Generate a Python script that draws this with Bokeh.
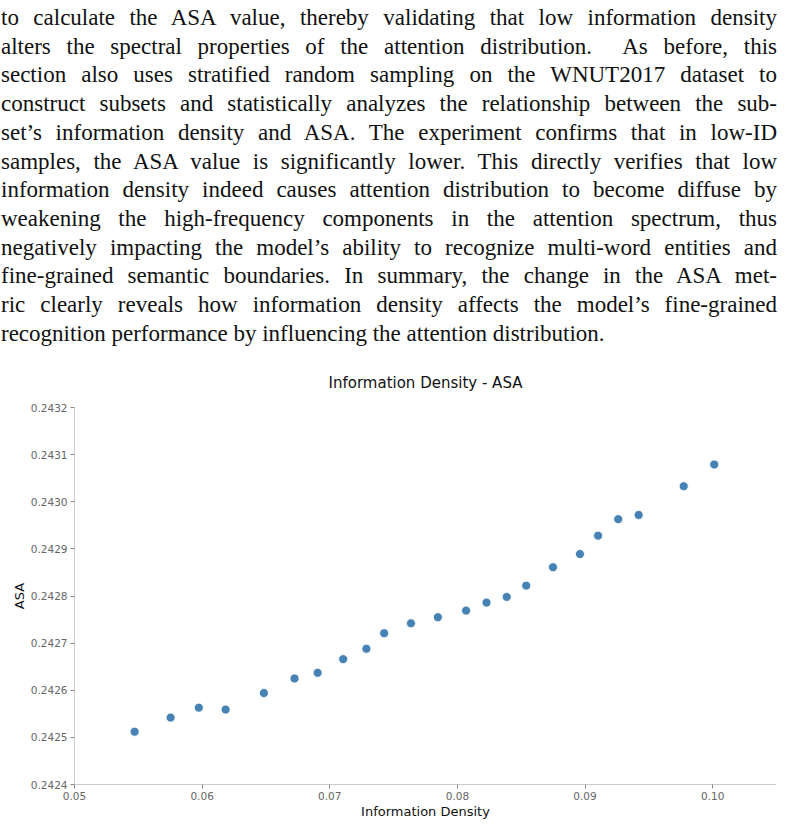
from bokeh.plotting import figure
from bokeh.models import Div, Range1d, FixedTicker, PrintfTickFormatter, ColumnDataSource
from bokeh.layouts import column
from bokeh.embed import file_html
from bokeh.resources import INLINE

# ---- data ----
info_density = [0.05471, 0.05753, 0.05974, 0.06184, 0.06484, 0.06724, 0.06905, 0.07105,
                0.07287, 0.07426, 0.07636, 0.07847, 0.08068, 0.08228, 0.08386, 0.08539,
                0.08749, 0.08960, 0.09102, 0.09260, 0.09420, 0.09773, 0.10012]
asa = [0.242512, 0.242542, 0.242563, 0.242559, 0.242594, 0.242625, 0.242637, 0.242666,
       0.242688, 0.242721, 0.242742, 0.242755, 0.242769, 0.242786, 0.242798, 0.242822,
       0.242861, 0.242889, 0.242928, 0.242963, 0.242972, 0.243033, 0.243079]
x_ticks = [0.05, 0.06, 0.07, 0.08, 0.09, 0.10]
y_ticks = [0.2424, 0.2425, 0.2426, 0.2427, 0.2428, 0.2429, 0.2430, 0.2431, 0.2432]

paragraph_lines = [
    "to calculate the ASA value, thereby validating that low information density",
    "alters the spectral properties of the attention distribution.&nbsp; As before, this",
    "section also uses stratified random sampling on the WNUT2017 dataset to",
    "construct subsets and statistically analyzes the relationship between the sub-",
    "set\u2019s information density and ASA. The experiment confirms that in low-ID",
    "samples, the ASA value is significantly lower. This directly verifies that low",
    "information density indeed causes attention distribution to become diffuse by",
    "weakening the high-frequency components in the attention spectrum, thus",
    "negatively impacting the model\u2019s ability to recognize multi-word entities and",
    "fine-grained semantic boundaries. In summary, the change in the ASA met-",
    "ric clearly reveals how information density affects the model\u2019s fine-grained",
    "recognition performance by influencing the attention distribution.",
]

# ---- paragraph ----
rows = []
for i, line in enumerate(paragraph_lines):
    if i == len(paragraph_lines) - 1:
        rows.append(f'<div style="text-align:left;white-space:nowrap;">{line}</div>')
    else:
        rows.append(f'<div style="text-align:justify;text-align-last:justify;">{line}</div>')
html = ('<div style="margin-left:-4px;margin-top:-1px;width:776px;'
        'font-family:\'Liberation Serif\',serif;font-size:23px;line-height:28.7px;color:#111;">'
        + "".join(rows) + '</div>')
div = Div(text=html, width=772, height=345)

# ---- chart ----
src = ColumnDataSource(dict(x=info_density, y=asa))
p = figure(width=776, height=466, output_backend="svg", toolbar_location=None,
           x_range=Range1d(0.05, 0.105), y_range=Range1d(0.2424, 0.2432),
           title="Information Density - ASA",
           min_border_left=74, min_border_right=0, min_border_top=0, min_border_bottom=0)
p.scatter("x", "y", source=src, size=9, fill_color="#4682b4", line_color="white",
          line_width=0.8)

p.title.align = "center"
p.title.text_font = "DejaVu Sans"
p.title.text_font_size = "15px"
p.title.text_font_style = "normal"
p.title.text_color = "#111111"
p.title.standoff = 32

p.outline_line_color = None
p.xgrid.visible = False
p.ygrid.visible = False

for ax in (p.xaxis[0], p.yaxis[0]):
    ax.axis_line_color = "#cccccc"
    ax.major_tick_line_color = "#888888"
    ax.major_tick_out = 4
    ax.major_tick_in = 0
    ax.minor_tick_line_color = None
    ax.major_label_text_font = "DejaVu Sans"
    ax.major_label_text_font_size = "10.5px"
    ax.major_label_text_color = "#666666"
    ax.axis_label_text_font = "DejaVu Sans"
    ax.axis_label_text_font_size = "13px"
    ax.axis_label_text_font_style = "normal"
    ax.axis_label_text_color = "#111111"

p.xaxis[0].ticker = FixedTicker(ticks=x_ticks)
p.xaxis[0].formatter = PrintfTickFormatter(format="%.2f")
p.xaxis[0].axis_label = "Information Density"
p.xaxis[0].major_label_standoff = 3
p.xaxis[0].axis_label_standoff = 1

p.yaxis[0].ticker = FixedTicker(ticks=y_ticks)
p.yaxis[0].formatter = PrintfTickFormatter(format="%.4f")
p.yaxis[0].axis_label = "ASA"
p.yaxis[0].major_label_standoff = 3
p.yaxis[0].axis_label_standoff = 1

layout = column(div, p, spacing=0)
open("out.html", "w").write(file_html(layout, INLINE))
